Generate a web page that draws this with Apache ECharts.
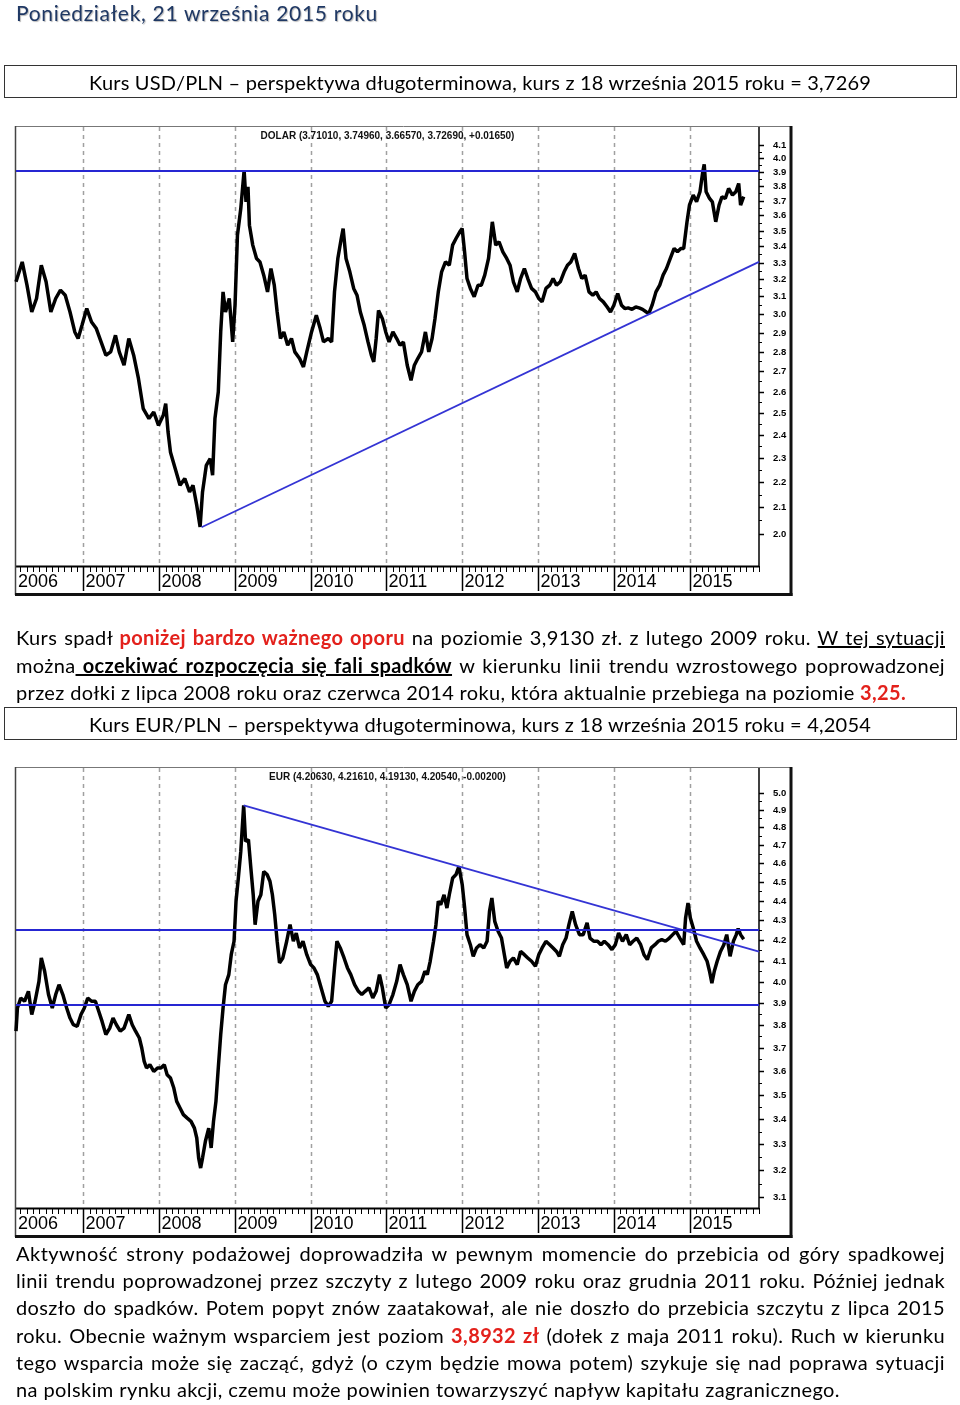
<!DOCTYPE html>
<html><head><meta charset="utf-8">
<script src="https://cdn.jsdelivr.net/npm/echarts@6/dist/echarts.min.js"></script>
<style>
html,body{margin:0;padding:0;background:#fff}
body{width:960px;height:1405px;position:relative;overflow:hidden;font-family:Lato,'Open Sans',sans-serif;color:#000}
#chart{position:absolute;left:0;top:0;width:960px;height:1405px}
.t{position:absolute;white-space:nowrap;font-size:20px;line-height:28px;height:28px;z-index:2}
.box{position:absolute;left:4px;width:953px;height:33px;box-sizing:border-box;border:1px solid #333;z-index:2}
.red{color:#e3211c;font-weight:bold}
.u{text-decoration:underline}
</style></head>
<body>
<div id="chart"></div>
<div class="t" style="left:16px;top:-1px;font-size:21px;color:#1f3864;text-shadow:1px 1px 1px rgba(0,0,0,.28)" data-w="362">Poniedziałek, 21 września 2015 roku</div>
<div class="box" style="top:65px"></div>
<div class="t" style="top:68px" data-w="782" data-cx="480">Kurs USD/PLN – perspektywa długoterminowa, kurs z 18 września 2015 roku = 3,7269</div>
<div class="t" style="left:16px;top:623px" data-w="929" data-j="1">Kurs spadł <span class="red">poniżej bardzo ważnego oporu</span> na poziomie 3,9130 zł. z lutego 2009 roku. <span class="u">W tej sytuacji</span></div>
<div class="t" style="left:16px;top:651px" data-w="929" data-j="1">można<span class="u"><b> oczekiwać rozpoczęcia się fali spadków</b></span> w kierunku linii trendu wzrostowego poprowadzonej</div>
<div class="t" style="left:16px;top:678px" data-w="890">przez dołki z lipca 2008 roku oraz czerwca 2014 roku, która aktualnie przebiega na poziomie <span class="red">3,25.</span></div>
<div class="box" style="top:707px"></div>
<div class="t" style="top:710px" data-w="782" data-cx="480">Kurs EUR/PLN – perspektywa długoterminowa, kurs z 18 września 2015 roku = 4,2054</div>
<div class="t" style="left:16px;top:1239px" data-w="929" data-j="1">Aktywność strony podażowej doprowadziła w pewnym momencie do przebicia od góry spadkowej</div>
<div class="t" style="left:16px;top:1266px" data-w="929" data-j="1">linii trendu poprowadzonej przez szczyty z lutego 2009 roku oraz grudnia 2011 roku. Później jednak</div>
<div class="t" style="left:16px;top:1293px" data-w="929" data-j="1">doszło do spadków. Potem popyt znów zaatakował, ale nie doszło do przebicia szczytu z lipca 2015</div>
<div class="t" style="left:16px;top:1321px" data-w="929" data-j="1">roku. Obecnie ważnym wsparciem jest poziom <span class="red">3,8932 zł</span> (dołek z maja 2011 roku). Ruch w kierunku</div>
<div class="t" style="left:16px;top:1348px" data-w="929" data-j="1">tego wsparcia może się zacząć, gdyż (o czym będzie mowa potem) szykuje się nad poprawa sytuacji</div>
<div class="t" style="left:16px;top:1375px" data-w="824">na polskim rynku akcji, czemu może powinien towarzyszyć napływ kapitału zagranicznego.</div>
<script>
// ---------------- DATA ----------------
const years = [2006, 2007, 2008, 2009, 2010, 2011, 2012, 2013, 2014, 2015];
const yearLabels = ['2006', '2007', '2008', '2009', '2010', '2011', '2012', '2013', '2014', '2015'];
const usdTicks = [2.0, 2.1, 2.2, 2.3, 2.4, 2.5, 2.6, 2.7, 2.8, 2.9, 3.0, 3.1, 3.2, 3.3, 3.4, 3.5, 3.6, 3.7, 3.8, 3.9, 4.0, 4.1];
const eurTicks = [3.1, 3.2, 3.3, 3.4, 3.5, 3.6, 3.7, 3.8, 3.9, 4.0, 4.1, 4.2, 4.3, 4.4, 4.5, 4.6, 4.7, 4.8, 4.9, 5.0];
const usdTitle = 'DOLAR (3.71010, 3.74960, 3.66570, 3.72690, +0.01650)';
const eurTitle = 'EUR (4.20630, 4.21610, 4.19130, 4.20540, -0.00200)';

// USD/PLN [year, rate]
const usdPoints = [
 [2006.110,3.185],[2006.192,3.304],[2006.255,3.165],[2006.318,3.012],[2006.381,3.088],[2006.444,3.284],[2006.507,3.185],[2006.570,3.012],[2006.634,3.088],[2006.697,3.136],
 [2006.760,3.107],[2006.823,3.012],[2006.886,2.903],[2006.930,2.868],[2006.981,2.939],[2007.044,3.031],[2007.107,2.957],[2007.170,2.921],[2007.233,2.850],[2007.296,2.781],
 [2007.360,2.798],[2007.423,2.885],[2007.473,2.798],[2007.536,2.730],[2007.599,2.868],[2007.663,2.781],[2007.726,2.664],[2007.789,2.520],[2007.865,2.474],[2007.928,2.504],
 [2007.991,2.443],[2008.054,2.489],[2008.086,2.543],[2008.117,2.413],[2008.149,2.325],[2008.212,2.255],[2008.275,2.187],[2008.338,2.214],[2008.401,2.160],[2008.446,2.187],
 [2008.496,2.107],[2008.540,2.025],[2008.572,2.160],[2008.622,2.269],[2008.673,2.297],[2008.705,2.228],[2008.736,2.474],[2008.780,2.598],[2008.812,2.903],[2008.843,3.126],
 [2008.875,3.012],[2008.925,3.088],[2008.970,2.850],[2009.001,3.050],[2009.033,3.471],[2009.077,3.646],[2009.121,3.913],[2009.146,3.692],[2009.172,3.796],[2009.191,3.536],
 [2009.235,3.408],[2009.285,3.325],[2009.330,3.304],[2009.380,3.224],[2009.430,3.126],[2009.475,3.264],[2009.519,3.165],[2009.557,3.012],[2009.601,2.868],[2009.645,2.903],
 [2009.696,2.833],[2009.746,2.868],[2009.790,2.798],[2009.853,2.764],[2009.904,2.721],[2009.948,2.798],[2010.011,2.903],[2010.074,2.994],[2010.125,2.921],[2010.169,2.850],
 [2010.232,2.868],[2010.276,2.850],[2010.314,3.126],[2010.358,3.325],[2010.403,3.450],[2010.428,3.514],[2010.466,3.325],[2010.516,3.244],[2010.567,3.146],[2010.611,3.107],
 [2010.655,3.012],[2010.706,2.939],[2010.756,2.850],[2010.800,2.781],[2010.832,2.747],[2010.864,2.868],[2010.895,3.021],[2010.946,2.975],[2010.990,2.903],[2011.034,2.850],
 [2011.085,2.903],[2011.135,2.868],[2011.179,2.833],[2011.223,2.850],[2011.274,2.730],[2011.324,2.655],[2011.368,2.730],[2011.413,2.764],[2011.463,2.798],[2011.514,2.903],
 [2011.558,2.798],[2011.602,2.868],[2011.640,2.975],[2011.684,3.126],[2011.728,3.244],[2011.779,3.304],[2011.829,3.284],[2011.873,3.408],[2011.918,3.450],[2011.968,3.493],
 [2011.999,3.514],[2012.031,3.366],[2012.063,3.204],[2012.107,3.146],[2012.158,3.098],[2012.208,3.165],[2012.252,3.165],[2012.297,3.224],[2012.347,3.325],[2012.397,3.558],
 [2012.442,3.408],[2012.486,3.429],[2012.536,3.366],[2012.587,3.325],[2012.631,3.284],[2012.675,3.185],[2012.726,3.126],[2012.770,3.204],[2012.820,3.264],[2012.865,3.204],
 [2012.915,3.146],[2012.966,3.126],[2013.010,3.088],[2013.054,3.069],[2013.105,3.146],[2013.155,3.165],[2013.199,3.204],[2013.244,3.165],[2013.294,3.185],[2013.345,3.244],
 [2013.389,3.284],[2013.433,3.304],[2013.484,3.356],[2013.534,3.264],[2013.578,3.204],[2013.622,3.224],[2013.673,3.126],[2013.723,3.107],[2013.767,3.126],[2013.812,3.088],
 [2013.862,3.069],[2013.913,3.040],[2013.957,3.012],[2014.001,3.050],[2014.052,3.117],[2014.102,3.050],[2014.146,3.031],[2014.190,3.035],[2014.241,3.027],[2014.291,3.040],
 [2014.335,3.035],[2014.380,3.027],[2014.430,3.012],[2014.462,3.003],[2014.506,3.050],[2014.557,3.126],[2014.607,3.165],[2014.651,3.224],[2014.696,3.264],[2014.746,3.325],
 [2014.797,3.387],[2014.841,3.366],[2014.885,3.387],[2014.923,3.387],[2014.967,3.558],[2014.999,3.669],[2015.049,3.738],[2015.093,3.692],[2015.138,3.761],[2015.175,3.902],
 [2015.194,3.956],[2015.219,3.761],[2015.264,3.715],[2015.301,3.692],[2015.346,3.558],[2015.390,3.669],[2015.428,3.726],[2015.472,3.715],[2015.516,3.784],[2015.567,3.738],
 [2015.611,3.761],[2015.649,3.819],[2015.674,3.669],[2015.715,3.727]
];
const usdResistance = 3.913;
const usdTrend = [[2008.559, 2.024], [2015.917, 3.304]];

// EUR/PLN [year, rate]
const eurPoints = [
 [2006.110,3.772],[2006.129,3.877],[2006.173,3.923],[2006.223,3.908],[2006.274,3.954],[2006.318,3.847],[2006.362,3.908],[2006.413,4.001],[2006.444,4.113],[2006.488,4.049],
 [2006.539,3.939],[2006.589,3.877],[2006.634,3.939],[2006.678,3.985],[2006.728,3.939],[2006.779,3.877],[2006.823,3.831],[2006.867,3.801],[2006.918,3.794],[2006.968,3.847],
 [2007.012,3.877],[2007.057,3.923],[2007.107,3.908],[2007.158,3.908],[2007.202,3.862],[2007.246,3.816],[2007.296,3.757],[2007.347,3.786],[2007.391,3.831],[2007.435,3.801],
 [2007.486,3.772],[2007.536,3.786],[2007.599,3.847],[2007.644,3.801],[2007.688,3.772],[2007.738,3.742],[2007.770,3.698],[2007.802,3.640],[2007.833,3.612],[2007.877,3.626],
 [2007.928,3.597],[2007.978,3.612],[2008.023,3.612],[2008.067,3.626],[2008.105,3.583],[2008.149,3.569],[2008.193,3.527],[2008.231,3.472],[2008.275,3.445],[2008.319,3.418],
 [2008.370,3.404],[2008.420,3.391],[2008.465,3.364],[2008.496,3.325],[2008.521,3.247],[2008.547,3.209],[2008.572,3.247],[2008.610,3.312],[2008.654,3.364],[2008.686,3.286],
 [2008.717,3.391],[2008.749,3.472],[2008.780,3.612],[2008.812,3.757],[2008.843,3.877],[2008.875,3.985],[2008.919,4.033],[2008.951,4.129],[2008.988,4.195],[2009.014,4.398],
 [2009.045,4.521],[2009.077,4.665],[2009.115,4.926],[2009.140,4.721],[2009.178,4.730],[2009.210,4.574],[2009.241,4.432],[2009.266,4.278],[2009.304,4.398],[2009.342,4.432],
 [2009.380,4.556],[2009.424,4.539],[2009.462,4.503],[2009.494,4.432],[2009.525,4.329],[2009.557,4.195],[2009.588,4.089],[2009.632,4.113],[2009.683,4.195],[2009.727,4.278],
 [2009.771,4.195],[2009.809,4.236],[2009.853,4.162],[2009.898,4.195],[2009.948,4.129],[2009.999,4.081],[2010.043,4.065],[2010.087,4.033],[2010.138,3.970],[2010.188,3.908],
 [2010.232,3.885],[2010.276,3.908],[2010.314,4.065],[2010.346,4.195],[2010.390,4.162],[2010.440,4.113],[2010.485,4.065],[2010.529,4.033],[2010.579,3.985],[2010.630,3.954],
 [2010.674,3.939],[2010.718,3.954],[2010.769,3.970],[2010.819,3.923],[2010.863,3.954],[2010.908,4.033],[2010.946,3.970],[2010.990,3.877],[2011.034,3.892],[2011.085,3.939],
 [2011.135,4.001],[2011.179,4.081],[2011.223,4.033],[2011.274,3.985],[2011.324,3.908],[2011.368,3.954],[2011.413,3.985],[2011.463,4.001],[2011.507,4.049],[2011.539,4.033],
 [2011.577,4.097],[2011.621,4.195],[2011.653,4.278],[2011.684,4.398],[2011.716,4.380],[2011.760,4.432],[2011.798,4.363],[2011.829,4.432],[2011.874,4.521],[2011.918,4.539],
 [2011.956,4.583],[2012.000,4.485],[2012.032,4.363],[2012.063,4.228],[2012.107,4.178],[2012.145,4.121],[2012.189,4.162],[2012.234,4.178],[2012.284,4.162],[2012.328,4.195],
 [2012.360,4.346],[2012.391,4.415],[2012.429,4.295],[2012.473,4.245],[2012.518,4.211],[2012.556,4.129],[2012.587,4.065],[2012.631,4.097],[2012.675,4.113],[2012.726,4.081],
 [2012.770,4.145],[2012.820,4.129],[2012.865,4.113],[2012.915,4.097],[2012.966,4.073],[2013.010,4.129],[2013.054,4.162],[2013.105,4.195],[2013.155,4.178],[2013.199,4.162],
 [2013.244,4.145],[2013.282,4.121],[2013.326,4.178],[2013.370,4.211],[2013.408,4.278],[2013.452,4.346],[2013.496,4.278],[2013.547,4.228],[2013.597,4.228],[2013.648,4.287],
 [2013.686,4.211],[2013.736,4.195],[2013.786,4.195],[2013.831,4.178],[2013.875,4.195],[2013.925,4.178],[2013.976,4.154],[2014.020,4.178],[2014.064,4.236],[2014.115,4.195],
 [2014.165,4.228],[2014.210,4.178],[2014.254,4.195],[2014.304,4.211],[2014.355,4.178],[2014.399,4.129],[2014.443,4.105],[2014.494,4.162],[2014.544,4.178],[2014.588,4.195],
 [2014.633,4.203],[2014.683,4.195],[2014.734,4.211],[2014.778,4.228],[2014.822,4.245],[2014.872,4.211],[2014.923,4.178],[2014.948,4.312],[2014.980,4.389],[2015.011,4.312],
 [2015.049,4.261],[2015.093,4.195],[2015.138,4.162],[2015.188,4.129],[2015.232,4.097],[2015.264,4.049],[2015.295,3.993],[2015.327,4.049],[2015.365,4.097],[2015.409,4.145],
 [2015.453,4.178],[2015.491,4.228],[2015.535,4.121],[2015.579,4.195],[2015.617,4.228],[2015.642,4.258],[2015.674,4.228],[2015.715,4.205]
];
const eurLevels = [4.249, 3.893];
const eurTrend = [[2009.115, 4.926], [2015.917, 4.144]];

// ---------------- AXES ----------------
const X_MIN = 2006.11, X_MAX = 2015.917;
const USD_MIN = 1.884, USD_MAX = 4.239;
const EUR_MIN = 3.061, EUR_MAX = 5.148;
const BLUE = '#2626d2';

function makeDecor(ticks, ymin, ymax, title) {
  return function (params, api) {
    const lt = api.coord([X_MIN, ymax]);
    const rb = api.coord([X_MAX, ymin]);
    const L = lt[0], T = lt[1], R = rb[0], B = rb[1];
    const ch = [];
    const line = (x1, y1, x2, y2, stroke, w, dash) => ch.push({
      type: 'line', shape: { x1, y1, x2, y2 },
      style: { stroke, lineWidth: w, lineDash: dash || null }
    });
    years.forEach(y => {
      if (y <= X_MIN) return;
      const x = Math.round(api.coord([y, ymin])[0]) + 0.5;
      line(x, T, x, B, '#a0a0a0', 1.5, [4, 4]);
    });
    line(L, B + 0.5, R, B + 0.5, '#000', 2);
    years.forEach(y => {
      for (let m = 1; m < 12; m++) {
        const t = y + m / 12;
        if (t <= X_MIN || t >= X_MAX) continue;
        const x = Math.round(api.coord([t, ymin])[0]) + 0.5;
        line(x, B, x, B + 6, '#000', 1);
      }
    });
    years.forEach((y, i) => {
      let x = api.coord([y, ymin])[0];
      if (y > X_MIN) {
        x = Math.round(x) + 0.5;
        line(x, B, x, B + 25, '#000', 1.5);
      } else {
        x = L;
      }
      ch.push({
        type: 'text', x: x + 2, y: B + 16,
        style: { text: yearLabels[i], fill: '#000', font: '18px "Liberation Sans", Arial, sans-serif',
          textAlign: 'left', align: 'left', textVerticalAlign: 'middle', verticalAlign: 'middle' }
      });
    });
    ticks.forEach((v, i) => {
      const y = Math.round(api.coord([X_MAX, v])[1]) + 0.5;
      line(R, y, R + 5, y, '#000', 1.5);
      ch.push({
        type: 'text', x: R + 14, y: y,
        style: { text: v.toFixed(1), fill: '#000', font: 'bold 9.5px "Liberation Sans", Arial, sans-serif',
          textAlign: 'left', align: 'left', textVerticalAlign: 'middle', verticalAlign: 'middle' }
      });
      if (i < ticks.length - 1) {
        const ym = Math.round(api.coord([X_MAX, (v + ticks[i + 1]) / 2])[1]) + 0.5;
        line(R, ym, R + 3, ym, '#000', 1);
      }
    });
    ch.push({
      type: 'text', x: (L + R) / 2, y: T + 9.5,
      style: { text: title, fill: '#111', font: 'bold 10px "Liberation Sans", Arial, sans-serif',
        textAlign: 'center', align: 'center', textVerticalAlign: 'middle', verticalAlign: 'middle' }
    });
    line(L - 1, T - 0.5, R + 33, T - 0.5, '#777', 1);
    line(L - 0.5, T - 1, L - 0.5, B + 29, '#444', 1.5);
    line(R + 32, T - 1, R + 32, B + 30, '#111', 3);
    line(L - 1, B + 28.5, R + 33.5, B + 28.5, '#111', 3);
    return { type: 'group', children: ch };
  };
}

function yAxisCfg(idx, min, max) {
  return {
    type: 'log', logBase: 10, gridIndex: idx, min, max, position: 'right',
    axisLine: { show: true, lineStyle: { color: '#000', width: 1.5 } },
    axisTick: { show: false }, axisLabel: { show: false }, splitLine: { show: false }
  };
}

const chart = echarts.init(document.getElementById('chart'), null, { renderer: 'canvas' });
chart.setOption({
  animation: false,
  backgroundColor: '#fff',
  grid: [
    { left: 16, top: 127, width: 743, height: 439 },
    { left: 16, top: 768, width: 743, height: 440 }
  ],
  xAxis: [0, 1].map(i => ({ type: 'value', gridIndex: i, min: X_MIN, max: X_MAX, show: false })),
  yAxis: [yAxisCfg(0, USD_MIN, USD_MAX), yAxisCfg(1, EUR_MIN, EUR_MAX)],
  series: [
    { type: 'custom', xAxisIndex: 0, yAxisIndex: 0, data: [[2010, 3]], clip: false, silent: true, z: 1,
      renderItem: makeDecor(usdTicks, USD_MIN, USD_MAX, usdTitle) },
    { type: 'line', xAxisIndex: 0, yAxisIndex: 0, data: usdPoints, symbol: 'none', z: 3,
      lineStyle: { color: '#000', width: 3.5, join: 'bevel' } },
    { type: 'line', xAxisIndex: 0, yAxisIndex: 0, data: usdTrend, symbol: 'none', z: 4,
      lineStyle: { color: '#3434d4', width: 1.8 },
      markLine: { silent: true, symbol: 'none', label: { show: false },
        lineStyle: { color: BLUE, width: 2, type: 'solid' },
        data: [{ yAxis: usdResistance }] } },

    { type: 'custom', xAxisIndex: 1, yAxisIndex: 1, data: [[2010, 4]], clip: false, silent: true, z: 1,
      renderItem: makeDecor(eurTicks, EUR_MIN, EUR_MAX, eurTitle) },
    { type: 'line', xAxisIndex: 1, yAxisIndex: 1, data: eurPoints, symbol: 'none', z: 3,
      lineStyle: { color: '#000', width: 3.5, join: 'bevel' } },
    { type: 'line', xAxisIndex: 1, yAxisIndex: 1, data: eurTrend, symbol: 'none', z: 4,
      lineStyle: { color: '#3434d4', width: 1.8 },
      markLine: { silent: true, symbol: 'none', label: { show: false },
        lineStyle: { color: BLUE, width: 2, type: 'solid' },
        data: eurLevels.map(v => ({ yAxis: v })) } }
  ]
});

// fit text lines to the widths measured on the reference
document.querySelectorAll('[data-w]').forEach(el => {
  const target = +el.dataset.w;
  const n = el.textContent.length;
  let w = el.getBoundingClientRect().width;
  if (el.dataset.j && w < target) {
    const ls = Math.min(0.6, (target - w) * 0.6 / n);
    el.style.letterSpacing = ls + 'px';
    w = el.getBoundingClientRect().width;
    const spaces = (el.textContent.match(/ /g) || []).length;
    if (w < target) el.style.wordSpacing = ((target - w) / spaces) + 'px';
  } else if (w < target) {
    el.style.letterSpacing = ((target - w) / n) + 'px';
  } else {
    el.style.transformOrigin = 'left center';
    el.style.transform = 'scaleX(' + (target / w) + ')';
  }
  if (el.dataset.cx) el.style.left = (+el.dataset.cx - target / 2) + 'px';
});
</script>
</body></html>
